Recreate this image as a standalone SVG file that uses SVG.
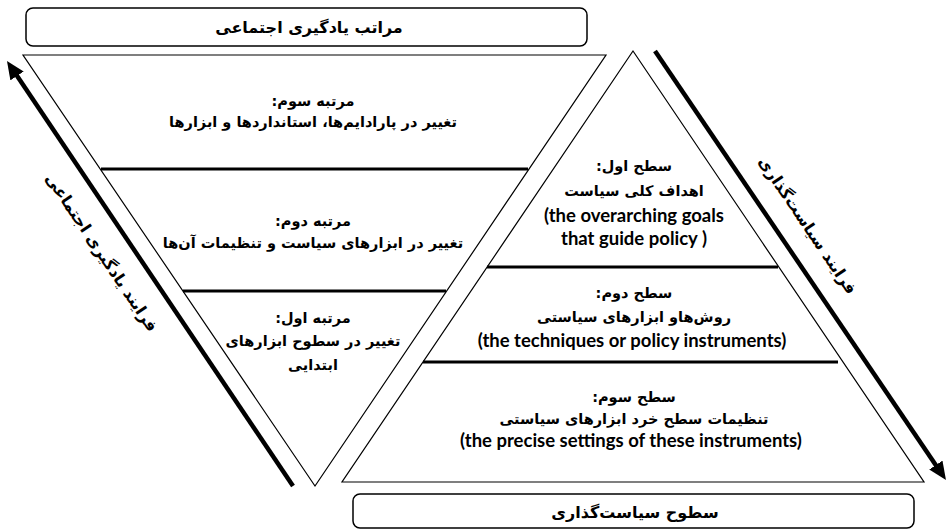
<svg xmlns="http://www.w3.org/2000/svg" width="947" height="530" viewBox="0 0 947 530">
<style>
.bg{fill:#fff}
.box{fill:#fff;stroke:#000;stroke-width:1.5}
.tri{fill:none;stroke:#000;stroke-width:1.2;stroke-linejoin:miter}
.div{stroke:#000;stroke-width:3}
.fa{font-family:"DejaVu Sans",sans-serif;font-weight:bold;font-size:14.5px;text-anchor:middle;direction:rtl;fill:#000}
.tt{font-size:16px}
.en{font-family:Lato,"Open Sans",sans-serif;font-weight:bold;font-size:18.5px;text-anchor:middle;fill:#000}
.arr{stroke:#000;stroke-width:4.5;fill:none}
</style>
<defs>
<marker id="head" markerUnits="userSpaceOnUse" viewBox="0 0 18 16" markerWidth="18" markerHeight="16" refX="4" refY="8" orient="auto">
<path d="M0,0 L18,8 L0,16 z" fill="#000"/>
</marker>
</defs>
<rect class="bg" width="947" height="530"/>

<g id="top-title">
<rect class="box" x="26" y="8" width="561" height="38" rx="7"/>
<text class="fa tt" x="309" y="33">مراتب یادگیری اجتماعی</text>
</g>

<g id="learning-triangle">
<polygon class="tri" points="23,55 606,55 315,486"/>
<line class="div" x1="101" y1="169" x2="528" y2="169"/>
<line class="div" x1="183" y1="291" x2="446" y2="291"/>
</g>

<g id="order-3">
<text class="fa" x="313" y="106">مرتبه سوم:</text>
<text class="fa" x="313" y="127">تغییر در پارادایم‌ها، استانداردها و ابزارها</text>
</g>
<g id="order-2">
<text class="fa" x="313" y="226">مرتبه دوم:</text>
<text class="fa" x="313" y="248">تغییر در ابزارهای سیاست و تنظیمات آن‌ها</text>
</g>
<g id="order-1">
<text class="fa" x="313" y="323">مرتبه اول:</text>
<text class="fa" x="313" y="346">تغییر در سطوح ابزارهای</text>
<text class="fa" x="313" y="370">ابتدایی</text>
</g>

<g id="policy-triangle">
<polygon class="tri" points="633,51 924,482 342,482"/>
<line class="div" x1="487" y1="267" x2="778" y2="267"/>
<line class="div" x1="423" y1="362" x2="838" y2="362"/>
</g>

<g id="level-1">
<text class="fa" x="634" y="171">سطح اول:</text>
<text class="fa" x="634" y="196">اهداف کلی سیاست</text>
<text class="en" x="634" y="222">(the overarching goals</text>
<text class="en" x="634" y="245">that guide policy )</text>
</g>
<g id="level-2">
<text class="fa" x="634" y="298">سطح دوم:</text>
<text class="fa" x="634" y="322">روش‌هاو ابزارهای سیاستی</text>
<text class="en" x="632" y="347">(the techniques or policy instruments)</text>
</g>
<g id="level-3">
<text class="fa" x="634" y="402">سطح سوم:</text>
<text class="fa" x="634" y="424">تنظیمات سطح خرد ابزارهای سیاستی</text>
<text class="en" x="631" y="447">(the precise settings of these instruments)</text>
</g>

<g id="bottom-title">
<rect class="box" x="353" y="494" width="561" height="34" rx="7"/>
<text class="fa tt" x="635" y="518">سطوح سیاست‌گذاری</text>
</g>

<g id="connectors">
<line class="arr" x1="293" y1="486" x2="14.8" y2="72.6" marker-end="url(#head)"/>
<line class="arr" x1="655" y1="51" x2="938.1" y2="468.4" marker-end="url(#head)"/>
</g>

<g id="learning-process-label">
<text class="fa tt" transform="translate(102,252) rotate(56)" x="0" y="6">فرایند یادگیری اجتماعی</text>
</g>
<g id="policy-process-label">
<text class="fa tt" transform="translate(808,225) rotate(56)" x="0" y="6">فرایند سیاست‌گذاری</text>
</g>
</svg>
